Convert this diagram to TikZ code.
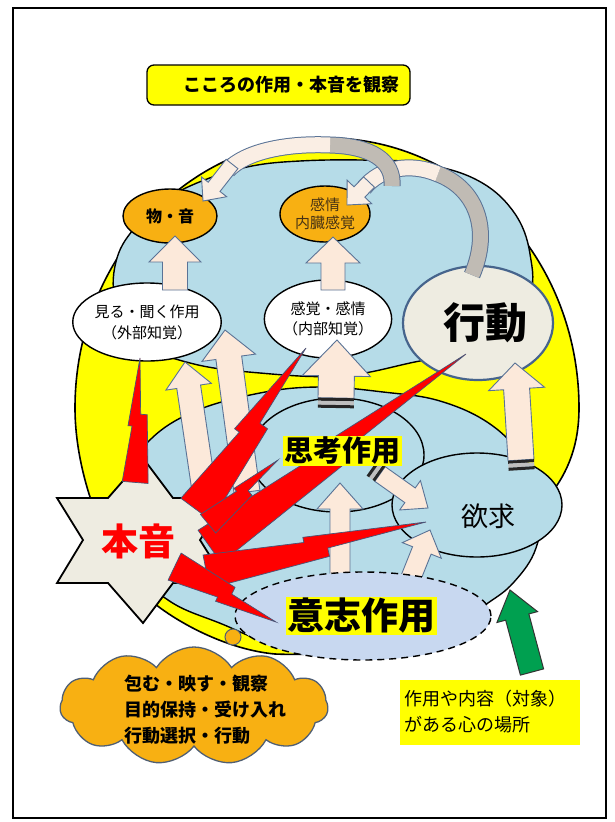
\documentclass[tikz,border=0pt]{standalone}
\usepackage{fontspec}
\setmainfont{Noto Sans CJK JP}
\usetikzlibrary{shapes.geometric,shapes.symbols,calc}

\definecolor{yel}{RGB}{255,255,0}
\definecolor{lblue}{RGB}{182,220,232}
\definecolor{wblue}{RGB}{200,216,240}
\definecolor{peach}{RGB}{252,233,218}
\definecolor{arrowedge}{RGB}{90,115,150}
\definecolor{orng}{RGB}{248,176,18}
\definecolor{beige}{RGB}{238,236,225}
\definecolor{steel}{RGB}{70,100,140}
\definecolor{curvegray}{RGB}{192,187,180}
\definecolor{curvelight}{RGB}{250,238,228}
\definecolor{boltedge}{RGB}{70,85,120}
\definecolor{grn}{RGB}{0,160,80}
\definecolor{cloudedge}{RGB}{80,95,115}
\definecolor{darktext}{RGB}{70,50,20}

\tikzset{
  blobstyle/.style={fill=lblue, draw=black, line width=1.4pt},
  arrowbox/.style={fill=peach, draw=arrowedge, line width=0.9pt},
  greenarrow/.style={fill=grn, draw=black!80, line width=1pt},
  boltstyle/.style={fill=red, draw=boltedge, line width=0.7pt, line join=miter},
  ovalnode/.style={ellipse, draw=black, line width=1.4pt, inner sep=0pt},
  titlebox/.style={draw=black, line width=1.3pt, fill=yel, rounded corners=7pt},
  hilite/.style={fill=yel, inner sep=1.5pt},
}

% block arrow: #2 from, #3 to (tip), #4 shaft half width, #5 head half width, #6 head length
\newcommand{\blockarr}[6][arrowbox]{%
  \coordinate (tmpH) at ($(#3)!#6!(#2)$);
  \filldraw[#1] ($(#2)!#4!90:(#3)$) -- ($(tmpH)!#4!-90:(#2)$) -- ($(tmpH)!#5!-90:(#2)$)
    -- (#3) -- ($(tmpH)!#5!90:(#2)$) -- ($(tmpH)!#4!90:(#2)$) -- ($(#2)!#4!-90:(#3)$) -- cycle;
}
% lightning bolt: #1 wide end, #2 tip, #3 width, #4 / #5 the two side angles
\newcommand{\boltshape}[5]{%
  \filldraw[boltstyle] ($(#1)!0.7*#3!#5:(#2)$)
    -- ($(#1)!0.55!(#2)!0.45*#3!#5:(#2)$)
    -- ($(#1)!0.55!(#2)!0.2*#3!#5:(#2)$)
    -- (#2)
    -- ($(#1)!0.45!(#2)!0.25*#3!#4:(#2)$)
    -- ($(#1)!0.45!(#2)!0.095*#3!#4:(#2)$)
    -- ($(#1)!0.3*#3!#4:(#2)$) -- cycle;
}
% stripes at the base of an arrow
\newcommand{\basestripes}[3]{%
  \coordinate (stA) at ($(#1)!-1.5pt!(#2)$);
  \coordinate (stB) at ($(#1)!-5pt!(#2)$);
  \coordinate (stC) at ($(#1)!-8.5pt!(#2)$);
  \draw[line width=3pt, black!85] ($(stA)!#3!90:(#2)$) -- ($(stA)!#3!-90:(#2)$);
  \draw[line width=4pt, gray!50] ($(stB)!#3!90:(#2)$) -- ($(stB)!#3!-90:(#2)$);
  \draw[line width=3pt, black!85] ($(stC)!#3!90:(#2)$) -- ($(stC)!#3!-90:(#2)$);
}

\begin{document}
\begin{tikzpicture}[x=1pt,y=-1pt]
\useasboundingbox (0,0) rectangle (614,822);
\fill[white] (0,0) rectangle (614,822);
\draw[line width=1.5pt] (13,8) rectangle (606,818);

% title
\node[titlebox, minimum width=263pt, minimum height=40pt] (titlebox) at (278.5,85) {};
\node[font=\bfseries\fontsize{18}{20}\selectfont] (title) at (291,85) {こころの作用・本音を観察};

% big yellow field: dome on top, hidden irregular bottom
\coordinate (mind) at (327,408);
\draw[fill=yel, draw=black, line width=1.6pt] (75,408)
   arc[start angle=180, end angle=0, x radius=252pt, y radius=270pt]
   .. controls (579,445) and (568,472) .. (550,495)
   .. controls (530,540) and (490,600) .. (420,632)
   .. controls (380,650) and (320,656) .. (275,654)
   .. controls (230,650) and (180,625) .. (150,600)
   .. controls (110,565) and (75,480) .. (75,408) -- cycle;

% upper blue region
\draw[blobstyle] plot[smooth cycle, tension=0.65] coordinates {
 (115,300) (117,258) (137,225) (166,199) (207,179) (252,166) (300,161) (360,160)
 (418,163) (475,179) (513,211) (530,254) (527,300) (480,345) (410,363) (340,376)
 (260,373) (190,363) (135,340)};

% lower blue region
\draw[blobstyle] plot[smooth cycle, tension=0.65] coordinates {
 (128,480) (148,442) (193,412) (260,393) (320,387) (383,392) (440,401) (490,424)
 (522,458) (540,505) (536,548) (514,582) (485,605) (430,640) (350,652) (280,646)
 (222,624) (168,600) (130,560)};

% thinking and desire
\node[ovalnode, fill=lblue, minimum width=174pt, minimum height=114pt] (shiko) at (337,455) {};
\node[ovalnode, fill=lblue, minimum width=170pt, minimum height=104pt] (yokkyu) at (477,505) {};

% perception ellipses and action
\node[ovalnode, fill=white, minimum width=118pt, minimum height=78pt, align=center,
      font=\fontsize{15}{21}\selectfont] (miru) at (147,322) {見る・聞く作用\\（外部知覚）};
\node[ovalnode, fill=white, minimum width=112pt, minimum height=78pt, align=center,
      font=\fontsize{15}{20}\selectfont] (kankaku) at (328,319) {感覚・感情\\（内部知覚）};
\node[ellipse, draw=steel, line width=2.2pt, fill=beige, minimum width=150pt, minimum height=114pt, inner sep=0pt] (kodo) at (478,323) {};
\node[font=\bfseries\fontsize{42}{44}\selectfont] (kodot) at (485,323) {行動};
\node[ovalnode, fill=orng, minimum width=94pt, minimum height=54pt,
      font=\bfseries\fontsize{16}{18}\selectfont] (mono) at (170,216) {物・音};
\node[ovalnode, fill=orng, minimum width=90pt, minimum height=56pt, align=center,
      text=darktext, font=\fontsize{15}{18}\selectfont] (kanjo) at (325,214) {感情\\内臓感覚};

% upward block arrows
\coordinate (a1s) at (205,497); \coordinate (a1e) at (185,362);
\coordinate (a2s) at (247,492); \coordinate (a2e) at (225,330);
\blockarr{a1s}{a1e}{12pt}{23pt}{25pt}
\blockarr{a2s}{a2e}{13pt}{27pt}{28pt}

\coordinate (a3s) at (336,398); \coordinate (a3e) at (337,340);
\blockarr{a3s}{a3e}{18pt}{34pt}{36pt}
\basestripes{a3s}{a3e}{18pt}

\coordinate (a4s) at (340,585); \coordinate (a4e) at (340,483);
\blockarr{a4s}{a4e}{10pt}{23pt}{26pt}
\coordinate (a5s) at (408,585); \coordinate (a5e) at (430,530);
\blockarr{a5s}{a5e}{10pt}{21pt}{22pt}
\coordinate (a6s) at (380,474); \coordinate (a6e) at (428,508);
\blockarr{a6s}{a6e}{9pt}{18pt}{22pt}
\basestripes{a6s}{a6e}{9pt}
\coordinate (a7s) at (521,460); \coordinate (a7e) at (515,363);
\blockarr{a7s}{a7e}{13pt}{28pt}{26pt}
\basestripes{a7s}{a7e}{13pt}

% will ellipse
\node[ellipse, draw=black, dash pattern=on 7pt off 5pt, line width=1.4pt, fill=wblue,
      minimum width=256pt, minimum height=88pt, inner sep=0pt] (ishi) at (363,616) {};

% arrows to the orange ellipses
\coordinate (a8s) at (175,290); \coordinate (a8e) at (175,236);
\blockarr{a8s}{a8e}{12.5pt}{26pt}{26pt}
\coordinate (a9s) at (333,290); \coordinate (a9e) at (333,237);
\blockarr{a9s}{a9e}{12pt}{27pt}{26pt}

% curved arrow from action to inner feelings
\coordinate (cb0) at (472,275); \coordinate (cb1) at (438,174); \coordinate (cb2) at (364,188);
\draw[line width=17pt, arrowedge] (cb0) .. controls (492,228) and (475,188) .. (cb1)
   .. controls (410,162) and (380,168) .. (cb2);
\draw[line width=15pt, curvegray] (cb0) .. controls (492,228) and (475,188) .. (cb1);
\draw[line width=15pt, curvelight] (cb1) .. controls (410,162) and (380,168) .. (cb2);
\coordinate (cbh) at (369,182); \coordinate (cbt) at (347,205);
\blockarr[fill=curvelight, draw=arrowedge, line width=0.9pt]{cbh}{cbt}{7.5pt}{17pt}{18pt}

% curved arrow towards things and sounds
\coordinate (ca0) at (392,186); \coordinate (ca1) at (330,145); \coordinate (ca2) at (228,170);
\draw[line width=17pt, arrowedge] (ca0) .. controls (394,160) and (370,146) .. (ca1)
   .. controls (285,143) and (245,152) .. (ca2);
\draw[line width=15pt, curvegray] (ca0) .. controls (394,160) and (370,146) .. (ca1);
\draw[line width=15pt, curvelight] (ca1) .. controls (285,143) and (245,152) .. (ca2);
\coordinate (cah) at (232,164); \coordinate (cat) at (203,201);
\blockarr[fill=curvelight, draw=arrowedge, line width=0.9pt]{cah}{cat}{7.5pt}{16pt}{18pt}

% star
\coordinate (starc) at (142,540);
\draw[fill=beige, line width=1.8pt, line join=miter] (143,458) -- (173,498) -- (227,498) -- (200,540)
  -- (227,583) -- (173,583) -- (143,623) -- (108,583) -- (57,583) -- (83,540) -- (57,498) -- (108,498) -- cycle;

% lightning bolts
\coordinate (b1s) at (130,482); \coordinate (b1e) at (140,358);
\coordinate (b2s) at (190,505); \coordinate (b2e) at (306,348);
\coordinate (b3s) at (205,540); \coordinate (b3e) at (466,354);
\coordinate (b4s) at (205,520); \coordinate (b4e) at (278,460);
\coordinate (b5s) at (205,565); \coordinate (b5e) at (426,522);
\coordinate (b6s) at (172,572); \coordinate (b6e) at (276,622);
\boltshape{b1s}{b1e}{26pt}{90}{-90}
\boltshape{b2s}{b2e}{38pt}{90}{-90}
\boltshape{b3s}{b3e}{40pt}{90}{-90}
\boltshape{b4s}{b4e}{24pt}{90}{-90}
\boltshape{b5s}{b5e}{34pt}{90}{-90}
\boltshape{b6s}{b6e}{30pt}{-90}{90}

% labels on top of the bolts
\node[hilite, font=\bfseries\fontsize{29}{30}\selectfont] (shikot) at (342,451) {思考作用};
\node[font=\fontsize{27}{28}\selectfont] (yokkyut) at (488,516) {欲求};
\node[hilite, font=\bfseries\fontsize{37}{38}\selectfont] (ishit) at (361,616) {意志作用};
\node[text=red, font=\bfseries\fontsize{37}{38}\selectfont] (honne) at (138,541) {本音};

% cloud callout
\node[circle, draw=cloudedge, fill=orng, line width=1pt, minimum size=16pt, inner sep=0pt] (bubble) at (233,637) {};
\node[cloud, cloud puffs=11, cloud puff arc=115, aspect=2.2, draw=cloudedge, line width=1.3pt, fill=orng,
      minimum width=268pt, minimum height=118pt, inner sep=0pt] (cloud) at (194,706) {};
\node[align=left, anchor=west, font=\bfseries\fontsize{18}{26}\selectfont] (cloudtext) at (121,710)
  {包む・映す・観察\\目的保持・受け入れ\\行動選択・行動};

% place label and green arrow
\node[fill=yel, align=left, inner sep=4pt, text width=172pt, minimum height=65pt,
      font=\fontsize{18}{26}\selectfont] (place) at (490,712) {作用や内容（対象）\\がある心の場所};
\coordinate (gs) at (532,672); \coordinate (ge) at (510,590);
\blockarr[greenarrow]{gs}{ge}{12pt}{21pt}{28pt}
\end{tikzpicture}
\end{document}
